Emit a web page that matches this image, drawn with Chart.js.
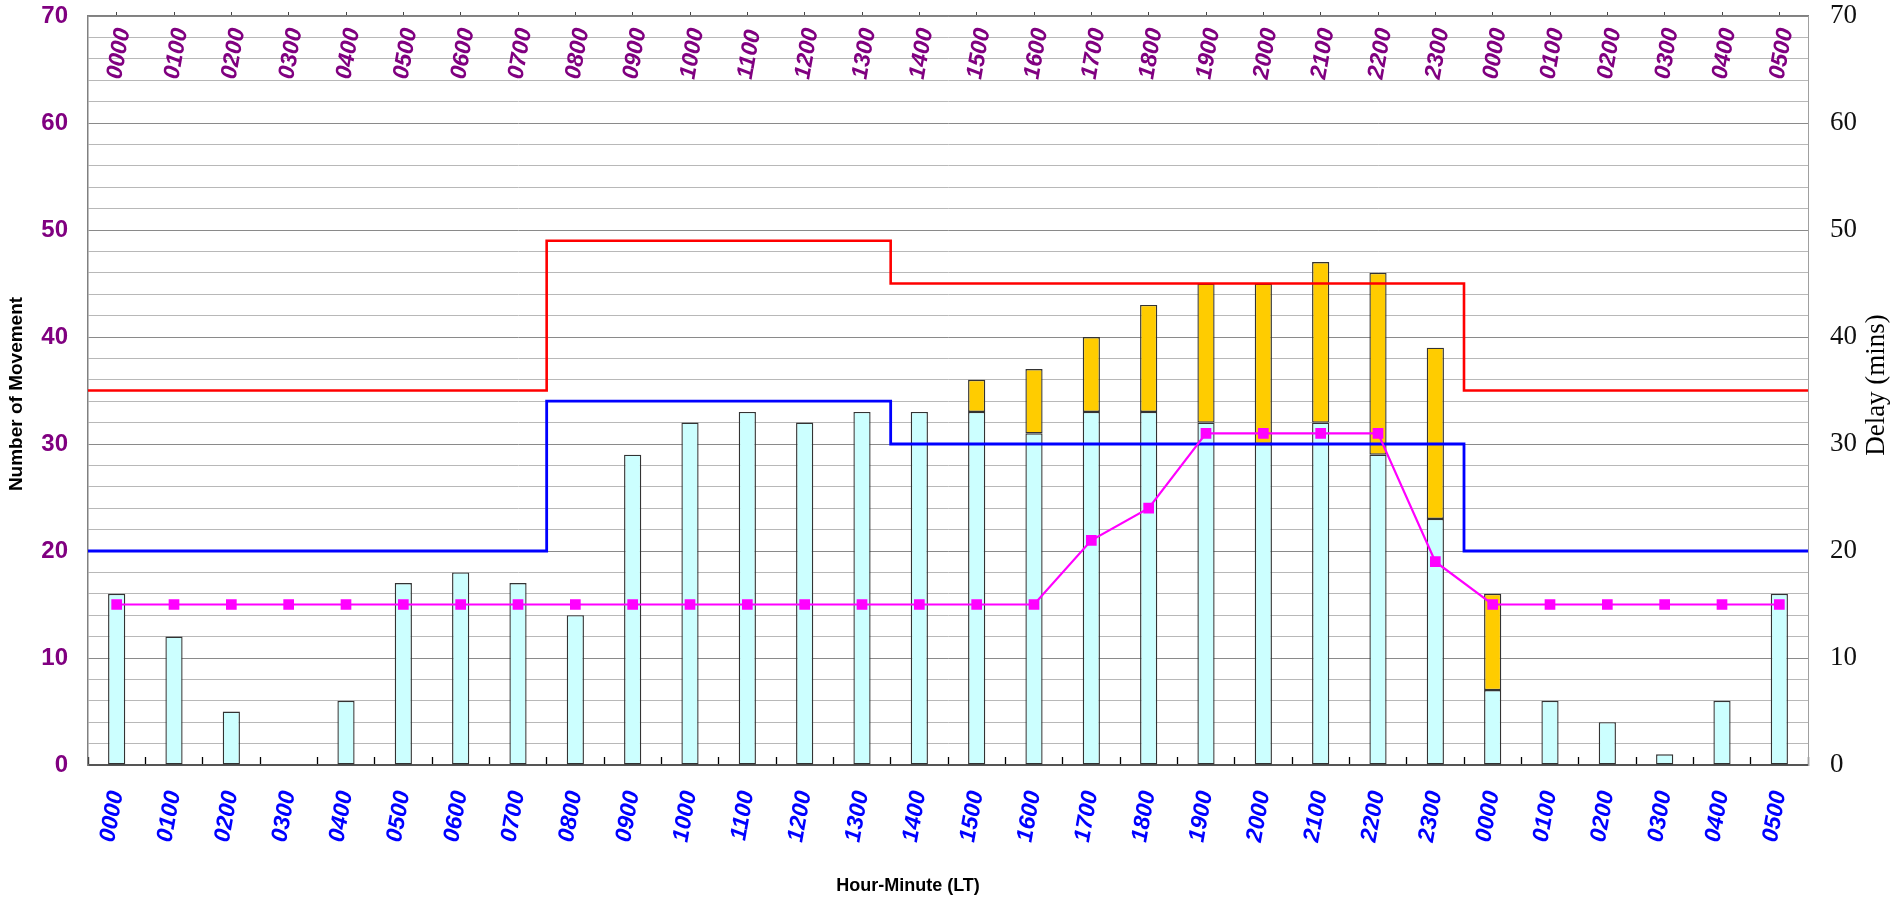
<!DOCTYPE html>
<html><head><meta charset="utf-8">
<script src="https://cdn.jsdelivr.net/npm/chart.js@4.4.0/dist/chart.umd.min.js"></script>
<style>html,body{margin:0;padding:0;background:#fff;overflow:hidden}canvas{display:block}</style>
</head><body>
<canvas id="c" width="1901" height="901"></canvas>
<script>
// ---- data ----
const hours = ['0000','0100','0200','0300','0400','0500','0600','0700','0800','0900','1000','1100','1200','1300','1400','1500','1600','1700','1800','1900','2000','2100','2200','2300','0000','0100','0200','0300','0400','0500'];
const movementsBase = [16,12,5,0,6,17,18,17,14,29,32,33,32,33,33,33,31,33,33,32,30,32,29,23,7,6,4,1,6,16];
const movementsExtra = [null,null,null,null,null,null,null,null,null,null,null,null,null,null,null,3,6,7,10,13,15,15,17,16,9,null,null,null,null,null];
const delayMins = [15,15,15,15,15,15,15,15,15,15,15,15,15,15,15,15,15,21,24,31,31,31,31,19,15,15,15,15,15,15];
const capacityRed = [35,35,35,35,35,35,35,35,49,49,49,49,49,49,45,45,45,45,45,45,45,45,45,45,35,35,35,35,35,35];
const capacityBlue = [20,20,20,20,20,20,20,20,34,34,34,34,34,34,30,30,30,30,30,30,30,30,30,30,20,20,20,20,20,20];
const leftAxisLabelsEvery = 10;
const axisTitles = { left: 'Number of Movement', bottom: 'Hour-Minute (LT)', right: 'Delay (mins)' };

// build step points (x in category-index units) from per-hour values
function stepPoints(vals) {
  const pts = [];
  vals.forEach((v, i) => { pts.push({x: i - 0.5, y: v}); pts.push({x: i + 0.5, y: v}); });
  return pts;
}

const SANS = '"Liberation Sans", Arial, sans-serif';
const NARROW = '"Liberation Sans Narrow", "Arial Narrow", "Liberation Sans", Arial, sans-serif';
const SERIF = '"Liberation Serif", "Times New Roman", serif';

function noPad(s) { s.paddingTop = 0; s.paddingBottom = 0; s.paddingLeft = 0; s.paddingRight = 0; }

const overlay = {
  id: 'overlay',
  afterDraw(chart) {
    const ctx = chart.ctx, xs = chart.scales.x, ca = chart.chartArea;
    ctx.save();
    // top hour labels (inside the plot, below the top axis)
    ctx.font = 'italic bold 23px ' + SANS;
    ctx.fillStyle = '#800080';
    ctx.textAlign = 'left'; ctx.textBaseline = 'middle';
    hours.forEach((h, i) => {
      const x = xs.getPixelForValue(i);
      ctx.save();
      ctx.translate(x - 2, ca.top + 63);
      ctx.rotate(-80 * Math.PI / 180);
      ctx.fillText(h, 0, 0);
      ctx.restore();
    });
    ctx.textAlign = 'center'; ctx.textBaseline = 'middle';
    ctx.fillStyle = '#000';
    // left title
    ctx.font = 'bold 19px ' + SANS;
    ctx.save(); ctx.translate(17, 394); ctx.rotate(-Math.PI / 2); ctx.fillText(axisTitles.left, 0, 0); ctx.restore();
    // bottom title
    ctx.font = 'bold 18px ' + SANS;
    ctx.fillText(axisTitles.bottom, 908, 886);
    // right title
    ctx.font = '27px ' + SERIF;
    ctx.save(); ctx.translate(1877, 385); ctx.rotate(-Math.PI / 2); ctx.fillText(axisTitles.right, 0, 0); ctx.restore();
    ctx.restore();
  }
};

new Chart(document.getElementById('c'), {
  type: 'bar',
  data: {
    labels: hours,
    datasets: [
      { type: 'line', label: 'Capacity A', data: stepPoints(capacityRed), xAxisID: 'xLin', yAxisID: 'yCap',
        borderColor: '#ff0000', borderWidth: 2.6, pointRadius: 0, fill: false, order: 1 },
      { type: 'line', label: 'Capacity B', data: stepPoints(capacityBlue), xAxisID: 'xLin', yAxisID: 'yCap',
        borderColor: '#0000ff', borderWidth: 2.8, pointRadius: 0, fill: false, order: 1 },
      { type: 'line', label: 'Delay', data: delayMins, xAxisID: 'x', yAxisID: 'yR',
        borderColor: '#ff00ff', borderWidth: 2.2, pointStyle: 'rect', pointRadius: 6, pointBackgroundColor: '#ff00ff',
        pointBorderColor: '#ff00ff', fill: false, order: 0 },
      { label: 'Movements', data: movementsBase, xAxisID: 'x', yAxisID: 'y', grouped: false,
        backgroundColor: '#ccffff', borderColor: '#333333', borderWidth: 1.4, borderSkipped: false,
        barPercentage: 0.3, categoryPercentage: 1, order: 2 },
      { label: 'Excess', data: movementsExtra, xAxisID: 'x', yAxisID: 'y', grouped: false,
        backgroundColor: '#ffcc00', borderColor: '#333333', borderWidth: 1.4, borderSkipped: false,
        barPercentage: 0.3, categoryPercentage: 1, order: 2 }
    ]
  },
  options: {
    responsive: false,
    animation: false,
    devicePixelRatio: 1,
    layout: { padding: 0 },
    plugins: { legend: { display: false }, tooltip: { enabled: false }, title: { display: false } },
    scales: {
      x: {
        type: 'category', position: 'bottom', stacked: true, offset: true,
        grid: { offset: true, drawOnChartArea: false, drawTicks: true, tickLength: -8, tickColor: '#000', tickWidth: 1.3 },
        border: { display: true, color: '#555', width: 2 },
        ticks: { autoSkip: false, minRotation: 80, maxRotation: 80, padding: 32, color: '#0000ff',
          font: { family: SANS, size: 23, style: 'italic', weight: 'bold' } },
        afterFit(s) { s.height = 136; noPad(s); }
      },
      xTop: {
        type: 'category', position: 'top', offset: true, labels: hours,
        grid: { offset: false, drawOnChartArea: false, drawTicks: true, tickLength: 4, tickColor: '#444' },
        border: { display: true, color: '#808080', width: 1.5 },
        ticks: { display: false },
        afterFit(s) { s.height = 16; noPad(s); }
      },
      xLin: { type: 'linear', display: false, min: -0.5, max: 29.5, offset: false },
      yCap: { type: 'linear', display: false, min: 0, max: 70 },
      y: {
        type: 'linear', position: 'left', stacked: true, min: 0, max: 70,
        grid: {
          drawTicks: false,
          color: (c) => (c.tick && c.tick.value % 10 === 0) ? '#8a8a8a' : '#b8b8b8',
          lineWidth: 1
        },
        border: { display: true, color: '#808080', width: 1.5 },
        ticks: {
          stepSize: 2, autoSkip: false, maxTicksLimit: 100, padding: 20, color: '#800080',
          font: { family: NARROW, size: 24, weight: 'bold' },
          callback: (v) => (v % leftAxisLabelsEvery === 0 ? String(v) : '')
        },
        afterFit(s) { s.width = 88; noPad(s); }
      },
      yR: {
        type: 'linear', position: 'right', min: 0, max: 70,
        grid: { drawOnChartArea: false, drawTicks: false },
        border: { display: true, color: '#a0a0a0', width: 1 },
        ticks: { stepSize: 10, padding: 22, color: '#111', font: { family: SERIF, size: 27 } },
        afterFit(s) { s.width = 93; noPad(s); }
      }
    }
  },
  plugins: [overlay]
});
</script>
</body></html>
